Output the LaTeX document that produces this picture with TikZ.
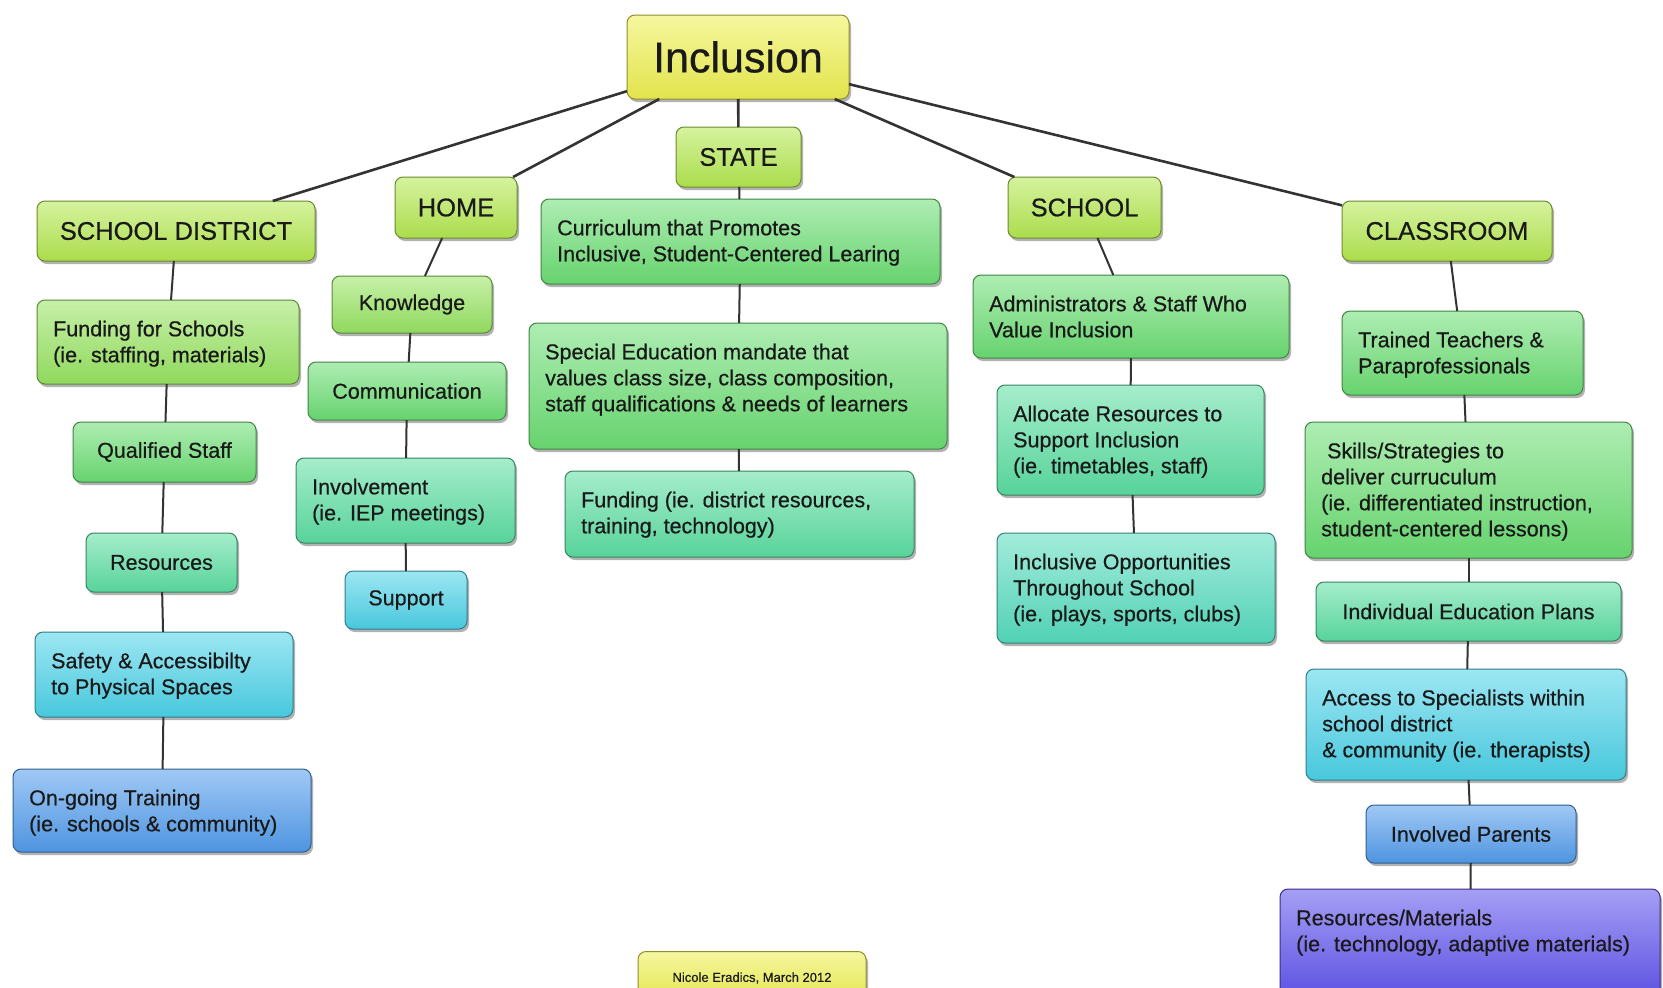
\documentclass[tikz,border=0pt]{standalone}
\usepackage{fontspec}
\setmainfont{Liberation Sans}
\newfontfamily\heavyfam{Liberation Sans}[FakeBold=0.5]
\usetikzlibrary{shadows}
\definecolor{cyel}{HTML}{EEF050}
\definecolor{chdr}{HTML}{B4E850}
\definecolor{clime}{HTML}{98E462}
\definecolor{cgrn}{HTML}{6CDE74}
\definecolor{cmint}{HTML}{5CDEA2}
\definecolor{cteal}{HTML}{56DCBE}
\definecolor{ccyan}{HTML}{4CD2E8}
\definecolor{cblue}{HTML}{529CEC}
\definecolor{cpurp}{HTML}{5C50EC}
\definecolor{cline}{HTML}{333333}
\newcommand\bodyf{\heavyfam\fontsize{21.5pt}{26pt}\selectfont}
\newcommand\hdrf{\heavyfam\fontsize{25.5pt}{30pt}\selectfont}
\tikzset{
  bx/.style={draw=#1!60!black, line width=1pt, rounded corners=8pt,
    top color=#1!55!white, bottom color=#1!95!black, inner sep=0pt, outer sep=0pt,
    text=black!90, font=\bodyf,
    drop shadow={shadow xshift=2pt, shadow yshift=-3pt, opacity=0.3, fill=black}},
  txt/.style={inner sep=0pt, anchor=north west, align=left, text=black!90, font=\bodyf},
  conn/.style={draw=cline, line width=2pt},
  mainconn/.style={draw=cline, line width=2.6pt}
}
% centred box: name, colour, x1, y1, x2, y2, text
\newcommand\cbox[7]{%
  \node[bx=#2, minimum width={(#5-#3)*1pt}, minimum height={(#6-#4)*1pt}]
    (#1) at ({(#3+#5)/2},{(#4+#6)/2}) {#7};}
% left-aligned box
\newcommand\lbox[7]{%
  \node[bx=#2, minimum width={(#5-#3)*1pt}, minimum height={(#6-#4)*1pt}]
    (#1) at ({(#3+#5)/2},{(#4+#6)/2}) {};
  \node[txt] (#1-t) at ([xshift=16pt,yshift=-20.5pt]#1.north west) {#7};}
\begin{document}
\begin{tikzpicture}[x={(1pt,0)}, y={(0,-1pt)}]
\useasboundingbox (0,0) rectangle (1663,988);
\fill[white] (0,0) rectangle (1663,988);

% root and footer
\cbox{inc}{cyel}{627}{15}{849}{99}{\heavyfam\fontsize{43pt}{50pt}\selectfont Inclusion}
\node[bx=cyel, minimum width=228pt, minimum height=53pt] (foot) at (752,978) {};
\node[inner sep=0pt, text=black!90, font=\heavyfam\fontsize{13pt}{15pt}\selectfont] (foot-t) at (752,978) {Nicole Eradics, March 2012};

% headers
\cbox{sd}{chdr}{37}{201}{315}{261}{\hdrf SCHOOL DISTRICT}
\cbox{home}{chdr}{395}{177}{517}{238}{\hdrf HOME}
\cbox{state}{chdr}{676}{127}{801}{187}{\hdrf STATE}
\cbox{school}{chdr}{1008}{177}{1161}{238}{\hdrf SCHOOL}
\cbox{class}{chdr}{1342}{201}{1552}{261}{\hdrf CLASSROOM}

% school district column
\lbox{sd1}{clime}{37}{300}{299}{384}{Funding for Schools\\(ie. staffing, materials)}
\cbox{sd2}{cgrn}{73}{422}{256}{482}{Qualified Staff}
\cbox{sd3}{cmint}{86}{533}{237}{592}{Resources}
\lbox{sd4}{ccyan}{35}{632}{293}{717}{Safety \& Accessibilty\\to Physical Spaces}
\lbox{sd5}{cblue}{13}{769}{311}{852}{On-going Training\\(ie. schools \& community)}

% home column
\cbox{h1}{clime}{332}{276}{492}{333}{Knowledge}
\cbox{h2}{cgrn}{308}{362}{506}{420}{Communication}
\lbox{h3}{cmint}{296}{458}{515}{543}{Involvement\\(ie. IEP meetings)}
\cbox{h4}{ccyan}{345}{571}{467}{629}{Support}

% state column
\lbox{st1}{cgrn}{541}{199}{940}{284}{Curriculum that Promotes\\Inclusive, Student-Centered Learing}
\lbox{st2}{cgrn}{529}{323}{947}{449}{Special Education mandate that\\values class size, class composition,\\staff qualifications \& needs of learners}
\lbox{st3}{cmint}{565}{471}{914}{557}{Funding (ie. district resources,\\training, technology)}

% school column
\lbox{sc1}{cgrn}{973}{275}{1289}{358}{Administrators \& Staff Who\\Value Inclusion}
\lbox{sc2}{cmint}{997}{385}{1264}{495}{Allocate Resources to\\Support Inclusion\\(ie. timetables, staff)}
\lbox{sc3}{cteal}{997}{533}{1275}{643}{Inclusive Opportunities\\Throughout School\\(ie. plays, sports, clubs)}

% classroom column
\lbox{c1}{cgrn}{1342}{311}{1583}{395}{Trained Teachers \&\\Paraprofessionals}
\lbox{c2}{cgrn}{1305}{422}{1632}{558}{\ Skills/Strategies to\\deliver curruculum\\(ie. differentiated instruction,\\student-centered lessons)}
\cbox{c3}{cmint}{1316}{582}{1621}{641}{Individual Education Plans}
\lbox{c4}{ccyan}{1306}{669}{1626}{780}{Access to Specialists within\\school district\\\& community (ie. therapists)}
\cbox{c5}{cblue}{1366}{805}{1576}{863}{Involved Parents}
\lbox{c6}{cpurp}{1280}{889}{1660}{1005}{Resources/Materials\\(ie. technology, adaptive materials)}

% connectors from the root
\draw[mainconn] (inc) -- (sd);
\draw[mainconn] (inc) -- (home);
\draw[mainconn] (inc) -- (state);
\draw[mainconn] (inc) -- (school);
\draw[mainconn] (inc) -- (class);

% column connectors
\draw[conn] (sd) -- (sd1);
\draw[conn] (sd1) -- (sd2);
\draw[conn] (sd2) -- (sd3);
\draw[conn] (sd3) -- (sd4);
\draw[conn] (sd4) -- (sd5);

\draw[conn] (home) -- (h1);
\draw[conn] (h1) -- (h2);
\draw[conn] (h2) -- (h3);
\draw[conn] (h3) -- (h4);

\draw[conn] (state) -- (st1);
\draw[conn] (st1) -- (st2);
\draw[conn] (st2) -- (st3);

\draw[conn] (school) -- (sc1);
\draw[conn] (sc1) -- (sc2);
\draw[conn] (sc2) -- (sc3);

\draw[conn] (class) -- (c1);
\draw[conn] (c1) -- (c2);
\draw[conn] (c2) -- (c3);
\draw[conn] (c3) -- (c4);
\draw[conn] (c4) -- (c5);
\draw[conn] (c5) -- (c6);
\end{tikzpicture}
\end{document}
